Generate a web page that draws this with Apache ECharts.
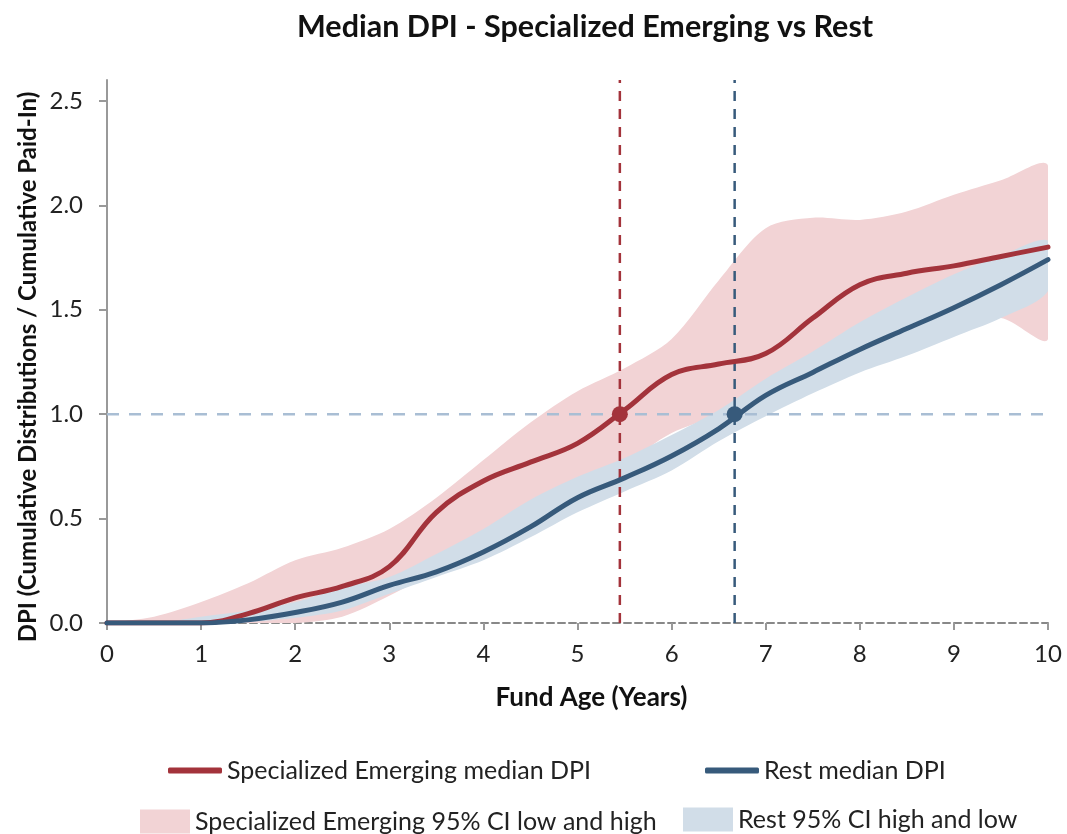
<!DOCTYPE html>
<html>
<head>
<meta charset="utf-8">
<script src="https://cdn.jsdelivr.net/npm/echarts@6/dist/echarts.min.js"></script>
<style>
html,body{margin:0;padding:0;background:#fff;}
#chart{width:1067px;height:834px;}
</style>
</head>
<body>
<div id="chart"></div>
<script>
// Fund age (years)
const ages = [0,0.5,1,1.5,2,2.5,3,3.5,4,4.5,5,5.5,6,6.5,7,7.5,8,8.5,9,9.5,10];
// Specialized Emerging
const seMedian = [0,0,0,0.045,0.12,0.175,0.27,0.53,0.68,0.77,0.86,1.02,1.19,1.24,1.29,1.46,1.62,1.675,1.71,1.755,1.80];
const seLow    = [0,0,0,0,0,0.03,0.13,0.25,0.37,0.50,0.63,0.76,0.91,0.99,1.06,1.15,1.25,1.34,1.42,1.46,1.36];
const seHigh   = [0,0.03,0.10,0.19,0.30,0.36,0.45,0.60,0.78,0.96,1.11,1.22,1.36,1.64,1.89,1.94,1.93,1.97,2.05,2.12,2.19];
// Rest
const restMedian = [0,0,0,0.015,0.05,0.10,0.18,0.245,0.34,0.46,0.60,0.695,0.80,0.93,1.09,1.20,1.31,1.41,1.51,1.62,1.74];
const restLow    = [0,0,0,0.005,0.025,0.06,0.14,0.22,0.30,0.41,0.53,0.63,0.73,0.87,0.99,1.10,1.20,1.28,1.37,1.46,1.59];
const restHigh   = [0,0,0.03,0.06,0.10,0.17,0.22,0.33,0.45,0.59,0.70,0.79,0.90,1.02,1.17,1.30,1.44,1.56,1.67,1.76,1.83];
// Points where median DPI reaches 1.0
const seCross = [5.45, 1.0];
const restCross = [6.67, 1.0];
const dpiThreshold = 1.0;
const yTop = 2.6;
const yTicks = ['0.0','0.5','1.0','1.5','2.0','2.5'];

const RED = '#A3333B', BLUE = '#375A7B', PINK = '#F2D3D5', LBLUE = '#D1DDE8';
const FONT = 'Lato';

const pair = (xs, ys) => xs.map((x, i) => [x, ys[i]]);

const SE_MED = 'Specialized Emerging median DPI';
const REST_MED = 'Rest median DPI';
const SE_CI = 'Specialized Emerging 95% CI low and high';
const REST_CI = 'Rest 95% CI high and low';

function bandSeries(name, hi, lo, color, z) {
  return {
    name: name, type: 'custom', z: z, clip: true, silent: true,
    itemStyle: {color: color},
    data: [[ages[0], lo[0]]],
    renderItem: function (params, api) {
      const up = ages.map((x, i) => api.coord([x, hi[i]]));
      const dn = ages.map((x, i) => api.coord([x, lo[i]])).reverse();
      return {
        type: 'polygon',
        shape: {points: up.concat(dn), smooth: 0.3},
        style: {fill: color, stroke: null}
      };
    }
  };
}

const chart = echarts.init(document.getElementById('chart'));
const legendText = {fontFamily: FONT, fontSize: 25, color: '#222'};
chart.setOption({
  animation: false,
  textStyle: {fontFamily: FONT},
  title: {
    text: 'Median DPI - Specialized Emerging vs Rest',
    left: 292, top: 7,
    textStyle: {fontFamily: FONT, fontSize: 30.5, fontWeight: 'bold', color: '#111'}
  },
  legend: [
    {data: [SE_MED], left: 163, top: 753, icon: 'roundRect', itemWidth: 54, itemHeight: 6, textStyle: legendText},
    {data: [REST_MED], left: 700, top: 753, icon: 'roundRect', itemWidth: 54, itemHeight: 6, textStyle: legendText},
    {data: [{name: SE_CI, itemStyle: {color: PINK}}], left: 135, top: 804, itemWidth: 50, itemHeight: 24, icon: 'rect', textStyle: legendText},
    {data: [{name: REST_CI, itemStyle: {color: LBLUE}}], left: 678, top: 802, itemWidth: 50, itemHeight: 24, icon: 'rect', textStyle: legendText}
  ],
  grid: {left: 107, right: 19, top: 80, bottom: 211, containLabel: false},
  graphic: [{
    type: 'text', x: 28, y: 367, rotation: Math.PI / 2,
    style: {text: 'DPI (Cumulative Distributions / Cumulative Paid-In)', fontFamily: FONT, fontSize: 24,
      fontWeight: 'bold', fill: '#111', align: 'center', verticalAlign: 'middle'}
  }],
  xAxis: {
    type: 'value', min: 0, max: 10, interval: 1,
    name: 'Fund Age (Years)', nameLocation: 'middle', nameGap: 62,
    nameTextStyle: {fontFamily: FONT, fontSize: 26, fontWeight: 'bold', color: '#111', padding: [0, 0, 0, 28]},
    axisLine: {show: true, lineStyle: {color: '#888', width: 2, type: [7, 4]}},
    axisTick: {show: true, length: 7, lineStyle: {color: '#999', width: 2}},
    axisLabel: {fontFamily: FONT, fontSize: 24, color: '#222', margin: 19},
    splitLine: {show: false}
  },
  yAxis: {
    type: 'value', min: 0, max: yTop, interval: 0.5,
    axisLine: {show: true, lineStyle: {color: '#999', width: 2}},
    axisTick: {show: true, length: 8, lineStyle: {color: '#999', width: 2}},
    axisLabel: {fontFamily: FONT, fontSize: 24, color: '#222', margin: 24, showMaxLabel: false,
      formatter: v => { const s = v.toFixed(1); return yTicks.indexOf(s) >= 0 ? s : ''; }},
    splitLine: {show: false}
  },
  series: [
    bandSeries(SE_CI, seHigh, seLow, PINK, 1),
    bandSeries(REST_CI, restHigh, restLow, LBLUE, 2),
    {name: 'threshold', type: 'line', data: [[0, dpiThreshold], [10, dpiThreshold]], symbol: 'none', silent: true,
     lineStyle: {color: '#A9BED4', width: 2.5, type: [12, 10]}, z: 3},
    {name: 'seVert', type: 'line', data: [[seCross[0], 0], [seCross[0], yTop]], symbol: 'none', silent: true,
     lineStyle: {color: RED, width: 2.5, type: [10, 8]}, z: 3},
    {name: 'restVert', type: 'line', data: [[restCross[0], 0], [restCross[0], yTop]], symbol: 'none', silent: true,
     lineStyle: {color: BLUE, width: 2.5, type: [10, 8]}, z: 3},
    {name: SE_MED, type: 'line', data: pair(ages, seMedian), smooth: 0.4, symbol: 'none',
     itemStyle: {color: RED}, lineStyle: {color: RED, width: 5, cap: 'round'}, z: 4},
    {name: REST_MED, type: 'line', data: pair(ages, restMedian), smooth: 0.4, symbol: 'none',
     itemStyle: {color: BLUE}, lineStyle: {color: BLUE, width: 5, cap: 'round'}, z: 5},
    {name: 'seDot', type: 'scatter', data: [seCross], symbolSize: 16, itemStyle: {color: RED, opacity: 1}, z: 6},
    {name: 'restDot', type: 'scatter', data: [restCross], symbolSize: 16, itemStyle: {color: BLUE, opacity: 1}, z: 6}
  ]
});
</script>
</body>
</html>
